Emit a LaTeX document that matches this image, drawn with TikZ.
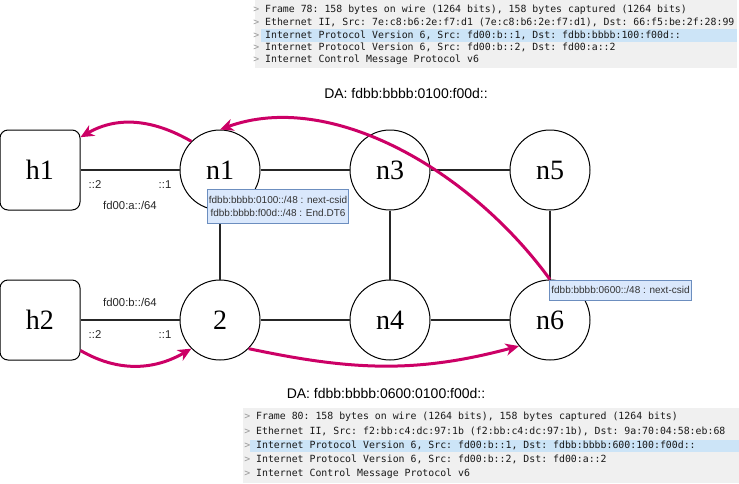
\documentclass[tikz,border=0pt]{standalone}
\usepackage{fontspec}
\setmainfont{Liberation Serif}
\setsansfont{Liberation Sans}
\setmonofont{DejaVu Sans Mono}
\usetikzlibrary{arrows.meta}
\definecolor{srpink}{RGB}{204,0,102}
\definecolor{sidfill}{RGB}{218,232,252}
\definecolor{sidline}{RGB}{108,142,191}
\definecolor{wsgray}{RGB}{240,240,240}
\definecolor{wssel}{RGB}{204,228,247}

\begin{document}
\begin{tikzpicture}[x=0.75pt, y=-0.75pt,
  host/.style={draw, line width=0.75pt, rounded corners=6pt,
    minimum width=60pt, minimum height=60pt, inner sep=0pt,
    font=\fontsize{21}{24}\selectfont},
  rtr/.style={draw, circle, line width=0.75pt, fill=white,
    minimum size=60pt, inner sep=0pt,
    font=\fontsize{21}{24}\selectfont},
  link/.style={line width=1.5pt, color=black!85},
  lbl/.style={font=\sffamily\fontsize{8.5}{10}\selectfont, color=black!85, inner sep=0pt},
  da/.style={font=\sffamily\fontsize{10.5}{12}\selectfont, inner sep=0pt},
  sid/.style={draw=sidline, fill=sidfill, line width=0.6pt, align=center,
    font=\sffamily\fontsize{7.5}{9.5}\selectfont, text=black!80, inner sep=1pt},
  flow/.style={line width=2.25pt, color=srpink,
    -{Stealth[length=10pt,width=9pt,inset=3pt]}},
  wsrow/.style={anchor=west, inner sep=0pt, text=black!90,
    font=\ttfamily\fontsize{7.4}{9}\selectfont},
  every node/.style={align=center}
]
  \useasboundingbox (0,0) rectangle (739,483);

  \fill[wsgray] (255,0) rectangle (737,68);
  \fill[wssel]  (261,29) rectangle (737,42);
  \node[wsrow] (fa1) at (253,9.5)  {{\color{black!40}>} Frame 78: 158 bytes on wire (1264 bits), 158 bytes captured (1264 bits)};
  \node[wsrow] (fa2) at (253,22.5) {{\color{black!40}>} Ethernet II, Src: 7e:c8:b6:2e:f7:d1 (7e:c8:b6:2e:f7:d1), Dst: 66:f5:be:2f:28:99};
  \node[wsrow] (fa3) at (253,35)   {{\color{black!40}>} Internet Protocol Version 6, Src: fd00:b::1, Dst: fdbb:bbbb:100:f00d::};
  \node[wsrow] (fa4) at (253,47.5) {{\color{black!40}>} Internet Protocol Version 6, Src: fd00:b::2, Dst: fd00:a::2};
  \node[wsrow] (fa5) at (253,60)   {{\color{black!40}>} Internet Control Message Protocol v6};

  \node[da] (daA) at (406,93)  {DA: fdbb:bbbb:0100:f00d::};
  \node[da] (daB) at (386,393) {DA: fdbb:bbbb:0600:0100:f00d::};

  \fill[wsgray] (243,408) rectangle (739,483);
  \fill[wssel]  (250,440) rectangle (739,452);
  \node[wsrow] (fb1) at (244,416.5) {{\color{black!40}>} Frame 80: 158 bytes on wire (1264 bits), 158 bytes captured (1264 bits)};
  \node[wsrow] (fb2) at (244,431)   {{\color{black!40}>} Ethernet II, Src: f2:bb:c4:dc:97:1b (f2:bb:c4:dc:97:1b), Dst: 9a:70:04:58:eb:68};
  \node[wsrow] (fb3) at (244,445.5) {{\color{black!40}>} Internet Protocol Version 6, Src: fd00:b::1, Dst: fdbb:bbbb:600:100:f00d::};
  \node[wsrow] (fb4) at (244,459.5) {{\color{black!40}>} Internet Protocol Version 6, Src: fd00:b::2, Dst: fd00:a::2};
  \node[wsrow] (fb5) at (244,473.5) {{\color{black!40}>} Internet Control Message Protocol v6};

  \node[host] (h1) at (40,170)  {h1};
  \node[host] (h2) at (40,320)  {h2};
  \node[rtr]  (n1) at (220,170) {n1};
  \node[rtr]  (n3) at (390,170) {n3};
  \node[rtr]  (n5) at (550,170) {n5};
  \node[rtr]  (r2) at (220,320) {2};
  \node[rtr]  (n4) at (390,320) {n4};
  \node[rtr]  (n6) at (550,320) {n6};

  \draw[link] (h1) -- (n1);
  \draw[link] (n1) -- (n3);
  \draw[link] (n3) -- (n5);
  \draw[link] (n1) -- (r2);
  \draw[link] (n3) -- (n4);
  \draw[link] (n5) -- (n6);
  \draw[link] (h2) -- (r2);
  \draw[link] (r2) -- (n4);
  \draw[link] (n4) -- (n6);

  \node[lbl] (pa2) at (95,185)  {::2};
  \node[lbl] (pa1) at (165,185) {::1};
  \node[lbl] (neta) at (130,205) {fd00:a::/64};
  \node[lbl] (netb) at (130,302) {fd00:b::/64};
  \node[lbl] (pb2) at (95,335)  {::2};
  \node[lbl] (pb1) at (165,335) {::1};

  \draw[flow] (n1.135) to[out=150,in=30] (h1.39);
  \draw[flow] (n6.north) .. controls +(-80,-110) and +(110,-40) .. (n1.north);
  \draw[flow] (h2.-37) to[out=-30,in=210] (r2.225);
  \draw[flow] (r2.-45) to[out=-12,in=195] (n6.220);

  \node[sid, minimum width=105pt, minimum height=25pt] (sid1) at (278,206.5)
    {fdbb:bbbb:0100::/48 : next-csid\\fdbb:bbbb:f00d::/48 : End.DT6};
  \node[sid, minimum width=106pt, minimum height=15pt] (sid6) at (620.5,290)
    {fdbb:bbbb:0600::/48 : next-csid};
\end{tikzpicture}
\end{document}
